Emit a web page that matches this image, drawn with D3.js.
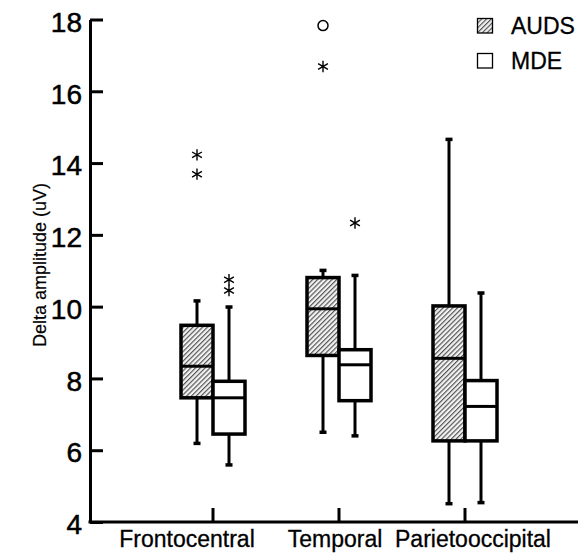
<!DOCTYPE html>
<html>
<head>
<meta charset="utf-8">
<script src="https://cdn.jsdelivr.net/npm/d3@7"></script>
<style>
  body { margin: 0; background: #fff; }
  svg { display: block; font-family: "Liberation Sans", Arial, sans-serif; }
</style>
</head>
<body>
<svg id="chart"></svg>
<script>
"use strict";

// regions on the x axis, groups inside each region
const regions = ["Frontocentral", "Temporal", "Parietooccipital"];
const groups = ["AUDS", "MDE"];
const yTicks = [4, 6, 8, 10, 12, 14, 16, 18];

// box stats per region: [lower whisker, Q1, median, Q3, upper whisker]
const audsStats = [
    [6.19, 7.46, 8.34, 9.48, 10.16],
    [6.50, 8.64, 9.94, 10.81, 11.01],
    [4.51, 6.26, 8.56, 10.02, 14.66]
];
const mdeStats = [
    [5.59, 6.45, 7.46, 7.92, 9.99],
    [6.40, 7.38, 8.38, 8.80, 10.87],
    [4.54, 6.26, 7.22, 7.94, 10.38]
];

// outliers: stars (extreme) and circles
const audsStars = [[14.23, 13.69], [16.69], []];
const mdeStars = [[10.75, 10.45], [12.33], []];
const audsCircles = [[], [17.83], []];
const mdeCircles = [[], [], []];

const width = 580, height = 554;
const margin = {top: 19.5, right: 2, bottom: 32, left: 90};

const svg = d3.select("#chart")
    .attr("width", width)
    .attr("height", height);

// hatch for AUDS
const defs = svg.append("defs");
defs.append("pattern")
    .attr("id", "hatch")
    .attr("patternUnits", "userSpaceOnUse")
    .attr("width", 3.4)
    .attr("height", 3.4)
    .attr("patternTransform", "rotate(45)")
    .call(p => {
        p.append("rect").attr("width", 3.4).attr("height", 3.4).attr("fill", "#f2f2f2");
        p.append("line")
            .attr("x1", 0.6).attr("y1", 0).attr("x2", 0.6).attr("y2", 3.4)
            .attr("stroke", "#4a4a4a").attr("stroke-width", 1.1);
    });

const y = d3.scaleLinear()
    .domain([4, 18])
    .range([height - margin.bottom, margin.top]);

const x = d3.scaleBand()
    .domain(regions)
    .range([150, 528]);

const xGroup = d3.scaleBand()
    .domain(groups)
    .range([-32, 32]);

// y axis, ticks pointing inward
const yAxis = svg.append("g")
    .attr("transform", `translate(${margin.left},0)`)
    .call(d3.axisLeft(y).tickValues(yTicks).tickSize(-13).tickSizeOuter(0).tickPadding(8));
yAxis.select(".domain").attr("stroke-width", 3);
yAxis.selectAll(".tick line").attr("stroke-width", 3);
yAxis.selectAll(".tick text")
    .attr("font-size", 28)
    .attr("dy", "0.42em")
    .attr("fill", "#000")
    .attr("stroke", "#000")
    .attr("stroke-width", 0.5);

// x axis
const xAxis = svg.append("g")
    .attr("transform", `translate(0,${y(4)})`)
    .call(d3.axisBottom(x).tickSize(-14).tickSizeOuter(0).tickPadding(12));
xAxis.select(".domain").remove();
xAxis.append("line")
    .attr("x1", margin.left - 1.5)
    .attr("x2", width - margin.right)
    .attr("stroke", "#000")
    .attr("stroke-width", 3);
xAxis.selectAll(".tick line").attr("stroke-width", 3);
// labels sit a little off their ticks in the original
const labelShift = {"Frontocentral": -26, "Temporal": -4, "Parietooccipital": 8};
xAxis.selectAll(".tick text")
    .attr("font-size", 23)
    .attr("fill", "#000")
    .attr("stroke", "#000")
    .attr("stroke-width", 0.3)
    .attr("dx", d => labelShift[d])
    .attr("dy", "0.55em");

svg.append("text")
    .attr("transform", "translate(46,265) rotate(-90)")
    .attr("text-anchor", "middle")
    .attr("font-size", 18)
    .attr("stroke", "#000")
    .attr("stroke-width", 0.2)
    .text("Delta amplitude (uV)");

const series = [
    {name: "AUDS", stats: audsStats, stars: audsStars, circles: audsCircles, fill: "url(#hatch)"},
    {name: "MDE", stats: mdeStats, stars: mdeStars, circles: mdeCircles, fill: "#fff"}
];

const boxW = xGroup.bandwidth();
const cap = 7;
const star = d3.symbol(d3.symbolAsterisk, 90);

series.forEach(s => {
    regions.forEach((r, i) => {
        const st = s.stats[i];
        const x0 = x(r) + x.bandwidth() / 2 + xGroup(s.name);
        const cx = x0 + boxW / 2;
        const g = svg.append("g");

        // whiskers
        g.append("line")
            .attr("x1", cx).attr("x2", cx)
            .attr("y1", y(st[0])).attr("y2", y(st[1]))
            .attr("stroke", "#000").attr("stroke-width", 3);
        g.append("line")
            .attr("x1", cx).attr("x2", cx)
            .attr("y1", y(st[3])).attr("y2", y(st[4]))
            .attr("stroke", "#000").attr("stroke-width", 3);
        [st[0], st[4]].forEach(v => {
            g.append("line")
                .attr("x1", cx - cap / 2).attr("x2", cx + cap / 2)
                .attr("y1", y(v)).attr("y2", y(v))
                .attr("stroke", "#000").attr("stroke-width", 3.5);
        });

        // box
        g.append("rect")
            .attr("x", x0)
            .attr("y", y(st[3]))
            .attr("width", boxW)
            .attr("height", y(st[1]) - y(st[3]))
            .attr("fill", s.fill)
            .attr("stroke", "#000")
            .attr("stroke-width", 3.5);
        g.append("line")
            .attr("x1", x0).attr("x2", x0 + boxW)
            .attr("y1", y(st[2])).attr("y2", y(st[2]))
            .attr("stroke", "#000").attr("stroke-width", 3);

        // outliers
        s.stars[i].forEach(v => {
            g.append("path")
                .attr("d", star())
                .attr("transform", `translate(${cx},${y(v)})`)
                .attr("fill", "none")
                .attr("stroke", "#000")
                .attr("stroke-width", 1.4);
        });
        s.circles[i].forEach(v => {
            g.append("circle")
                .attr("cx", cx).attr("cy", y(v))
                .attr("r", 5)
                .attr("fill", "none")
                .attr("stroke", "#000")
                .attr("stroke-width", 1.5);
        });
    });
});

// legend
const legend = svg.append("g").attr("transform", "translate(477,18)");
series.forEach((s, i) => {
    const row = legend.append("g").attr("transform", `translate(0,${i * 35})`);
    row.append("rect")
        .attr("width", 15).attr("height", 14.5)
        .attr("x", 0.5).attr("y", 0.5)
        .attr("fill", s.fill)
        .attr("stroke", "#000")
        .attr("stroke-width", 1.3);
    row.append("text")
        .attr("x", 34)
        .attr("y", 16)
        .attr("font-size", 23)
        .attr("stroke", "#000")
        .attr("stroke-width", 0.3)
        .text(s.name);
});
</script>
</body>
</html>
